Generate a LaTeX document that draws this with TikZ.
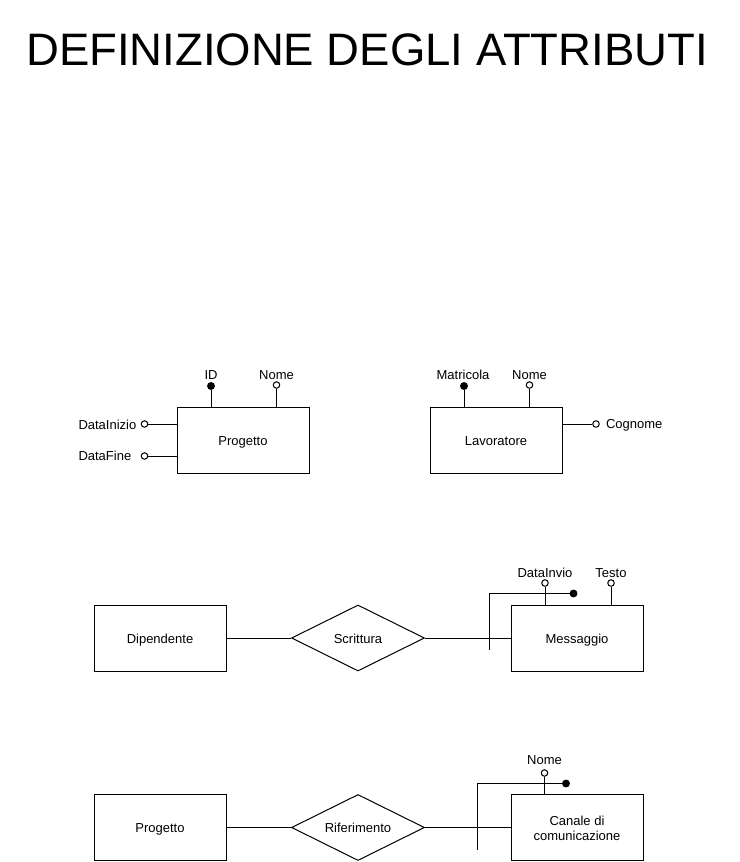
\documentclass[tikz,border=0pt]{standalone}
\usepackage{fontspec}
\setmainfont{Liberation Sans}
\usetikzlibrary{shapes.geometric}
\begin{document}
\begin{tikzpicture}[x=1pt,y=-1pt,
  every path/.style={line width=1pt},
  ent/.style={draw,line width=1pt,minimum width=132pt,minimum height=66pt,inner sep=0pt,font=\fontsize{13}{14.3}\selectfont,text height=12.3pt,text depth=1.7pt},
  rel/.style={draw,line width=1pt,diamond,aspect=2,minimum width=133pt,minimum height=66pt,inner sep=0pt,font=\fontsize{13}{14.3}\selectfont,text height=12.3pt,text depth=1.7pt},
  keyattr/.style={circle,fill=black,draw=black,line width=0.8pt,inner sep=0pt,minimum size=7pt},
  plainattr/.style={circle,fill=white,draw=black,line width=1pt,inner sep=0pt,minimum size=6.5pt},
  lbl/.style={inner sep=0pt,anchor=base,font=\fontsize{13}{14.3}\selectfont},
  title/.style={inner sep=0pt,font=\fontsize{45.5}{54}\selectfont}
]
\useasboundingbox (0,0) rectangle (739,862);
\node[title,anchor=base] (ttl) at (367,65) {DEFINIZIONE DEGLI ATTRIBUTI};

% Row 1: Progetto
\node[ent] (prog) at (243,440) {Progetto};
\node[keyattr] (pid) at (211,386) {};
\node[lbl] (pidl) at (211,379.5) {ID};
\node[plainattr] (pnome) at (276.5,385) {};
\node[lbl] (pnomel) at (276.5,379.5) {Nome};
\draw (pid) -- (pid |- prog.north);
\draw (pnome) -- (pnome |- prog.north);
\node[plainattr] (pdi) at (144.5,424) {};
\node[lbl,anchor=base west] (pdil) at (78,429) {DataInizio};
\node[plainattr] (pdf) at (144.5,456) {};
\node[lbl,anchor=base west] (pdfl) at (78,460) {DataFine};
\draw (pdi) -- (pdi -| prog.west);
\draw (pdf) -- (pdf -| prog.west);

% Row 1: Lavoratore
\node[ent] (lav) at (496,440) {Lavoratore};
\node[keyattr] (lmat) at (464,386) {};
\node[lbl] (lmatl) at (463,379.5) {Matricola};
\node[plainattr] (lnome) at (529.5,385) {};
\node[lbl] (lnomel) at (529.5,379.5) {Nome};
\draw (lmat) -- (lmat |- lav.north);
\draw (lnome) -- (lnome |- lav.north);
\node[plainattr] (lcog) at (596,424) {};
\node[lbl,anchor=base west] (lcogl) at (605.5,428.3) {Cognome};
\draw (lcog) -- (lcog -| lav.east);

% Row 2
\node[ent] (dip) at (160,638) {Dipendente};
\node[rel] (scr) at (358,638) {Scrittura};
\node[ent] (mess) at (577,638) {Messaggio};
\draw (dip.east) -- (scr.west);
\draw (scr.east) -- (mess.west);
\node[plainattr] (mdi) at (545,583) {};
\node[lbl] (mdil) at (545,577.3) {DataInvio};
\node[plainattr] (mte) at (611,583) {};
\node[lbl] (mtel) at (611,577.3) {Testo};
\draw (mdi) -- (mdi |- mess.north);
\draw (mte) -- (mte |- mess.north);
\coordinate (m1t) at (489.5,593.5);
\coordinate (m1b) at (489.5,649.5);
\node[keyattr] (mk) at (573.5,593.5) {};
\draw (m1b) -- (m1t) -- (mk);

% Row 3
\node[ent] (prog2) at (160,827.5) {Progetto};
\node[rel] (rif) at (358,827.5) {Riferimento};
\node[ent] (can) at (577,827.5) {};
\node[lbl] (canl1) at (577,825.7) {Canale di};
\node[lbl] (canl2) at (577,840) {comunicazione};
\draw (prog2.east) -- (rif.west);
\draw (rif.east) -- (can.west);
\node[plainattr] (cno) at (544.5,773) {};
\node[lbl] (cnol) at (544.5,764.3) {Nome};
\draw (cno) -- (cno |- can.north);
\coordinate (c1t) at (477,783.5);
\coordinate (c1b) at (477,850);
\node[keyattr] (ck) at (566,783.5) {};
\draw (c1b) -- (c1t) -- (ck);
\end{tikzpicture}
\end{document}
